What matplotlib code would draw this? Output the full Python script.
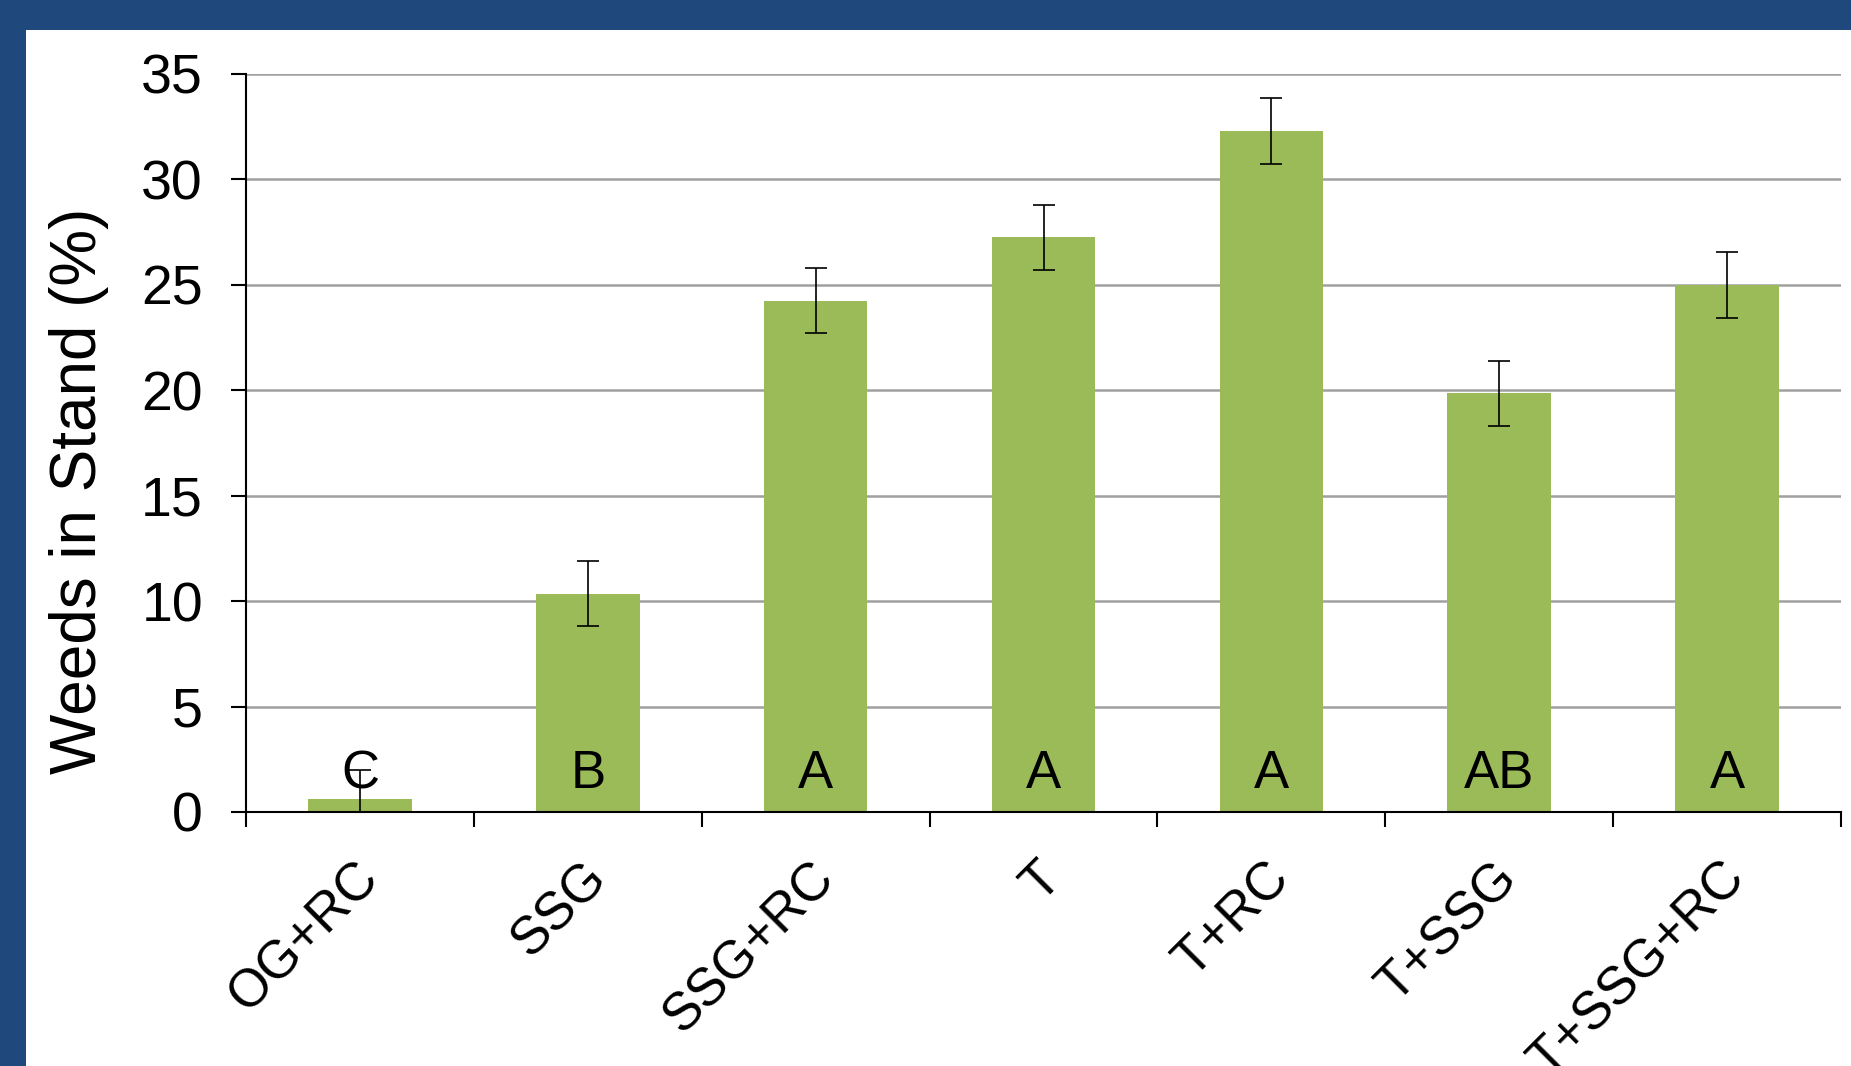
import matplotlib
matplotlib.use("Agg")
import matplotlib.pyplot as plt
from matplotlib.patches import Rectangle
from matplotlib.transforms import ScaledTranslation
import numpy as np

# treatment names, mean weed cover and error bars
treatments = ["OG+RC", "SSG", "SSG+RC", "T", "T+RC", "T+SSG", "T+SSG+RC"]
weeds = [0.6, 10.35, 24.25, 27.25, 32.3, 19.85, 25.0]
errors = [1.4, 1.55, 1.55, 1.55, 1.55, 1.55, 1.55]
letters = ["C", "B", "A", "A", "A", "AB", "A"]

plt.rcParams["font.family"] = ["Liberation Sans", "DejaVu Sans"]

fig = plt.figure(figsize=(18.51, 10.66), dpi=100)
fig.patch.set_facecolor("#1F497D")
# white slide area inside the blue frame
fig.patches.append(Rectangle((26 / 1851, 0), 1, 1 - 30 / 1066,
                             transform=fig.transFigure, facecolor="white",
                             edgecolor="none", zorder=-10))

ax = fig.add_axes([246 / 1851, 1 - 812 / 1066, (1841 - 246) / 1851, (812 - 74) / 1066])
ax.set_facecolor("none")

x = np.arange(len(treatments))
ax.bar(x, weeds, width=0.455, color="#9BBB59", zorder=2)
ax.errorbar(x, weeds, yerr=errors, fmt="none", ecolor="black",
            elinewidth=1.2, capsize=8, capthick=1.2, zorder=3)

for xi, lab in zip(x, letters):
    ax.text(xi, 1.8, lab, ha="center", va="center", fontsize=38, zorder=4)

ax.set_xlim(-0.5, len(treatments) - 0.5)
ax.set_ylim(0, 35)
ax.set_yticks(range(0, 36, 5))
ax.yaxis.grid(True, color="#A0A0A0", linewidth=1.8, zorder=1)
ax.set_axisbelow(True)

# boundary ticks on x, labels at bar centers
ax.set_xticks(np.arange(-0.5, len(treatments), 1.0))
ax.set_xticklabels([])
ax.set_xticks(x, minor=True)
ax.set_xticklabels(treatments, minor=True, rotation=45, ha="right",
                   rotation_mode="anchor", fontsize=38)
ax.tick_params(axis="x", which="minor", length=0, pad=29)
ax.tick_params(axis="x", which="major", length=11, width=1.5, direction="out")
ax.tick_params(axis="y", length=11, width=1.5, direction="out", labelsize=40, pad=20)

shift = ScaledTranslation(-5 / 72, 0, fig.dpi_scale_trans)
for lbl in ax.get_xticklabels(minor=True):
    lbl.set_transform(lbl.get_transform() + shift)

for side in ["top", "right"]:
    ax.spines[side].set_visible(False)
for side in ["left", "bottom"]:
    ax.spines[side].set_linewidth(1.5)
ax.spines["bottom"].set_zorder(5)

ax.set_ylabel("Weeds in Stand (%)", fontsize=46)
ax.yaxis.set_label_coords(-0.086, 0.435)

fig.savefig("out.png", dpi=100, facecolor=fig.get_facecolor())
